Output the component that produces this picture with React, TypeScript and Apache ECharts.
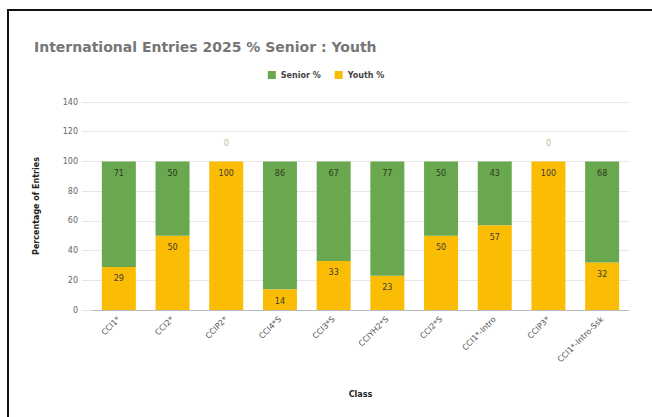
import React, { useEffect, useRef } from "react";
import * as echarts from "echarts";

const categories = [
  "CCI1*",
  "CCI2*",
  "CCIP2*",
  "CCI4*S",
  "CCI3*S",
  "CCIYH2*S",
  "CCI2*S",
  "CCI1*-Intro",
  "CCIP3*",
  "CCI1*-Intro-Ssk",
];
const seniorPct = [71, 50, 0, 86, 67, 77, 50, 43, 0, 68];
const youthPct = [29, 50, 100, 14, 33, 23, 50, 57, 100, 32];
const yTicks = [0, 20, 40, 60, 80, 100, 120, 140];

export default function App() {
  const ref = useRef<HTMLDivElement>(null);
  useEffect(() => {
    if (!ref.current) return;
    const chart = echarts.init(ref.current, null, { renderer: "svg" });
    const font = "DejaVu Sans";
    chart.setOption({
      animation: false,
      backgroundColor: "#fff",
      textStyle: { fontFamily: font },
      graphic: [
        {
          type: "rect",
          shape: { x: 8, y: 10, width: 700, height: 500 },
          style: { fill: "none", stroke: "#111", lineWidth: 2 },
          silent: true,
        },
      ],
      title: {
        text: "International Entries 2025 % Senior : Youth",
        left: 29,
        top: 35,
        textStyle: { fontSize: 14, fontWeight: "bold", color: "#767676", fontFamily: font },
      },
      legend: {
        top: 66,
        left: "center",
        itemWidth: 8,
        itemHeight: 8,
        itemGap: 14,
        data: ["Senior %", "Youth %"],
        textStyle: { fontSize: 8, fontWeight: "bold", color: "#444" },
        icon: "rect",
      },
      grid: { left: 92, right: 23, top: 102, bottom: 107 },
      xAxis: {
        type: "category",
        data: categories,
        name: "Class",
        nameLocation: "middle",
        nameGap: 80,
        nameTextStyle: { fontSize: 8, fontWeight: "bold", color: "#222" },
        axisLine: { show: true, lineStyle: { color: "#bbb" } },
        axisTick: { show: false },
        axisLabel: { rotate: 45, fontSize: 8, color: "#555", margin: 8 },
      },
      yAxis: {
        type: "value",
        min: yTicks[0],
        max: yTicks[yTicks.length - 1],
        interval: 20,
        name: "Percentage of Entries",
        nameLocation: "middle",
        nameGap: 52,
        nameTextStyle: { fontSize: 8, fontWeight: "bold", color: "#222" },
        axisLine: { show: false },
        axisTick: { show: true, length: 10, lineStyle: { color: "#e6e6e6" } },
        axisLabel: { fontSize: 8, color: "#666", margin: 14 },
        splitLine: { lineStyle: { color: "#e6e6e6" } },
      },
      series: [
        {
          name: "Youth %",
          type: "bar",
          stack: "total",
          barWidth: 34,
          itemStyle: { color: "#fbbc04" },
          label: {
            show: true,
            position: "insideTop",
            distance: 8,
            fontSize: 8,
            color: "#3a3a3a",
          },
          data: youthPct,
        },
        {
          name: "Senior %",
          type: "bar",
          stack: "total",
          barWidth: 34,
          itemStyle: { color: "#6aa84f" },
          label: {
            show: true,
            position: "insideTop",
            distance: 8,
            fontSize: 8,
            color: "#2a3a20",
          },
          data: seniorPct.map((v) =>
            v === 0
              ? { value: v, label: { position: "top", distance: 14, color: "#a8c89a" } }
              : v
          ),
        },
      ],
    });
    return () => chart.dispose();
  }, []);
  return (
    <div
      ref={ref}
      style={{ position: "fixed", left: 0, top: 0, width: 652, height: 417 }}
    />
  );
}
